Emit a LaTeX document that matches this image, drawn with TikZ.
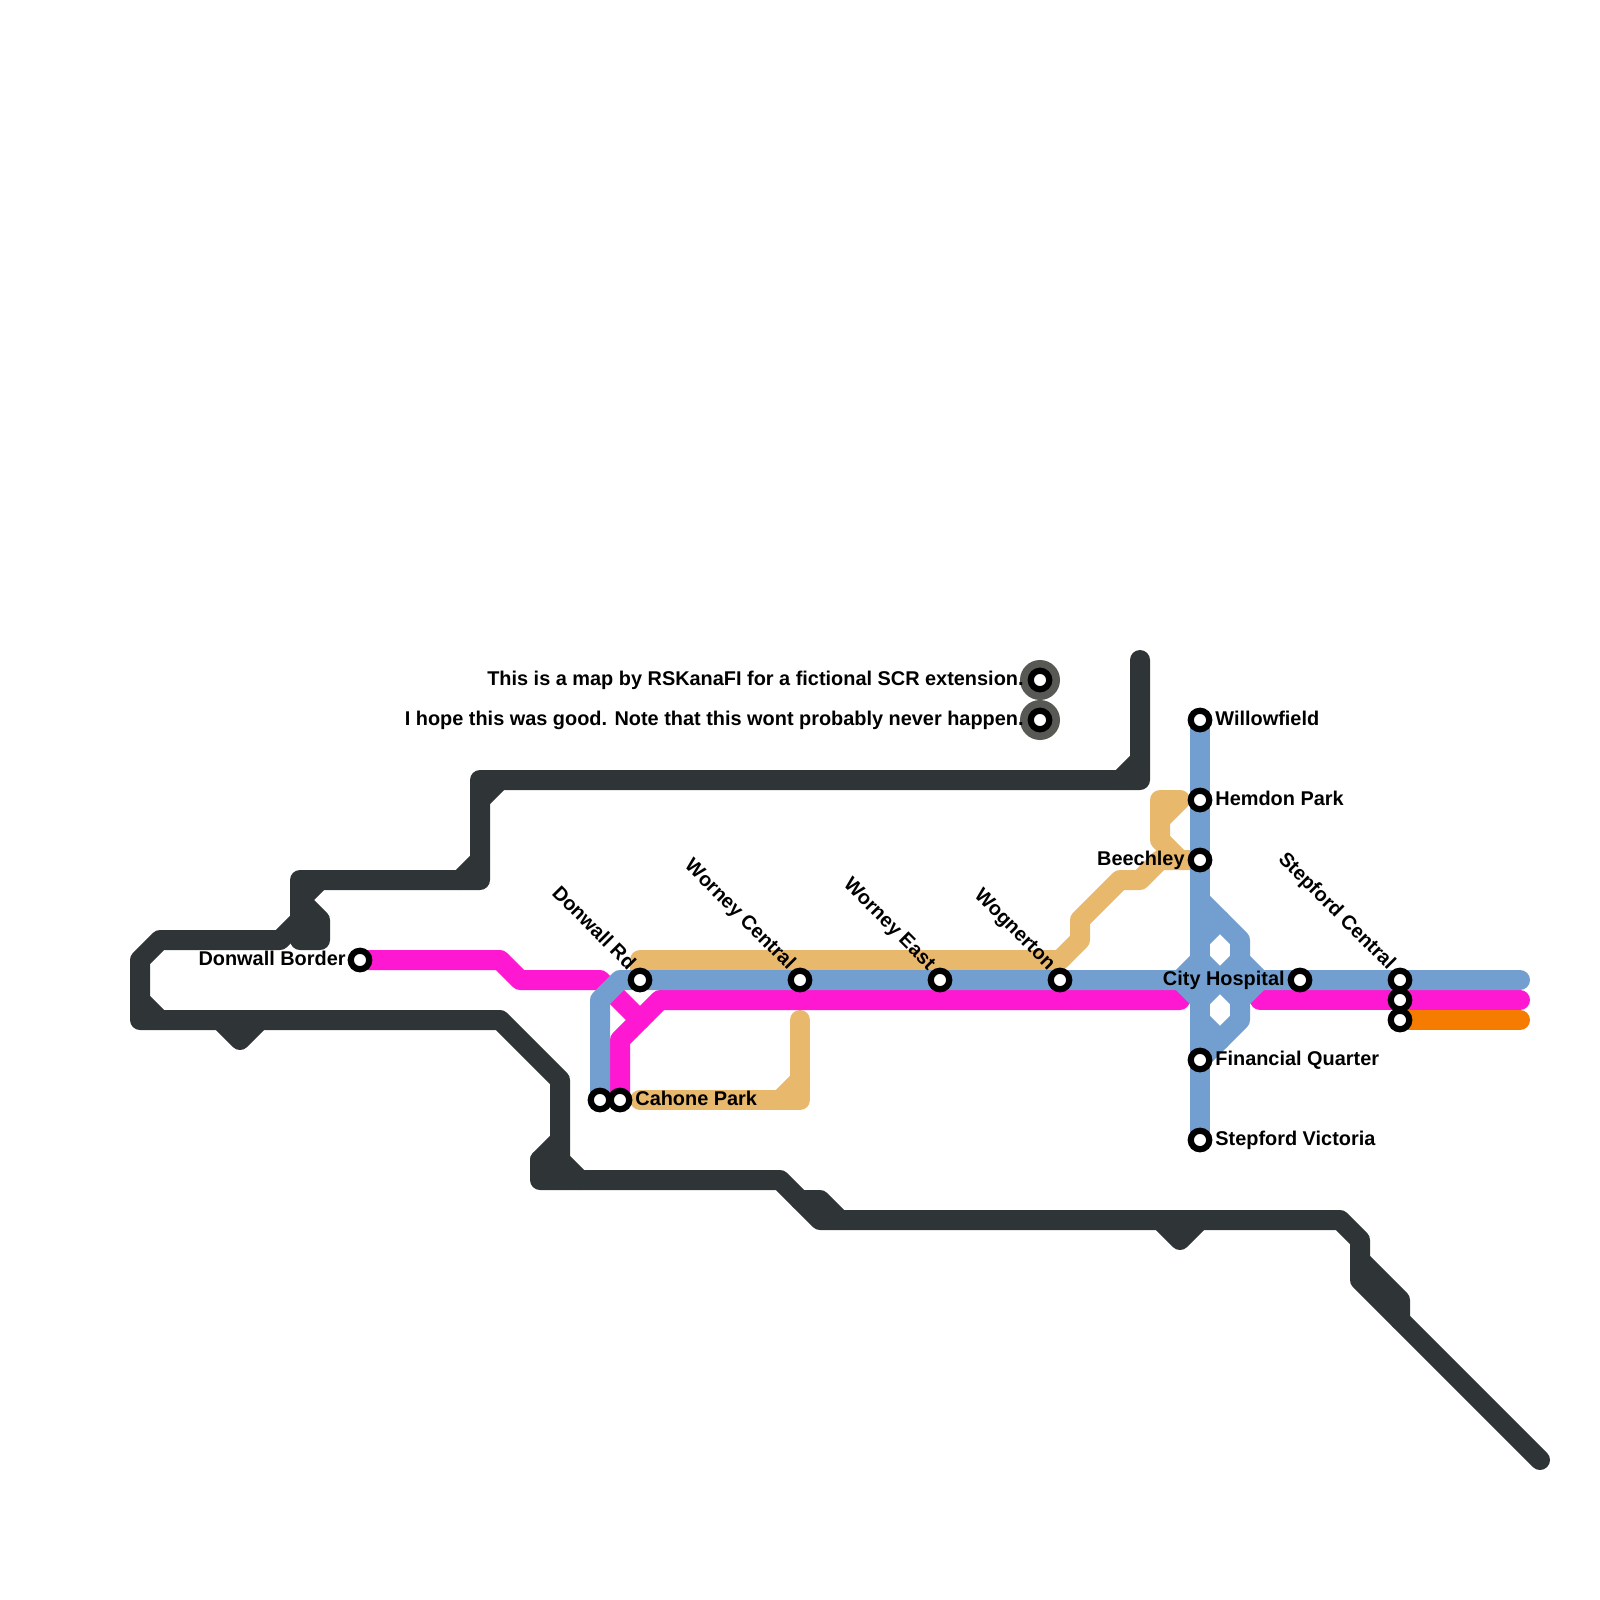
\documentclass[tikz,border=0pt]{standalone}
\usepackage{fontspec}
\setmainfont{Liberation Sans}
\usetikzlibrary{backgrounds}
\definecolor{darkline}{HTML}{2F3437}
\definecolor{tanline}{HTML}{E8B86D}
\definecolor{pinkline}{HTML}{FF18D2}
\definecolor{blueline}{HTML}{739FD0}
\definecolor{orangeline}{HTML}{F57C00}
\definecolor{halogray}{HTML}{585854}
\begin{document}
\begin{tikzpicture}[x=0.5pt, y=-0.5pt,
  route/.style={line width=10pt, line cap=round, line join=round},
  stn/.style={draw=black, fill=white, circle, line width=3.1pt, minimum size=9.25pt, inner sep=0pt},
  halo/.style={fill=halogray, circle, minimum size=20pt, inner sep=0pt},
  lbl/.style={font=\bfseries\fontsize{9.95}{11}\selectfont, inner sep=0pt, text=black}]
\useasboundingbox (0,0) rectangle (1600,1600);
% stations
\node[stn] (border) at (360,960) {};
\node[stn] (donwall) at (640,980) {};
\node[stn] (central) at (800,980) {};
\node[stn] (east) at (940,980) {};
\node[stn] (wognerton) at (1060,980) {};
\node[stn] (cahoneb) at (600,1100) {};
\node[stn] (cahonep) at (620,1100) {};
\node[stn] (willow) at (1200,720) {};
\node[stn] (hemdon) at (1200,800) {};
\node[stn] (beechley) at (1200,860) {};
\node[stn] (financial) at (1200,1060) {};
\node[stn] (victoria) at (1200,1140) {};
\node[stn] (hospital) at (1300,980) {};
\node[stn] (stepb) at (1400,980) {};
\node[stn] (stepp) at (1400,1000) {};
\node[stn] (stepo) at (1400,1020) {};
\node[stn] (noteone) at (1040,680) {};
\node[stn] (notetwo) at (1040,720) {};
% labels
\node[lbl, anchor=base east] at (1024,685) {This is a map by RSKanaFI for a fictional SCR extension.};
\node[lbl, anchor=base east] at (1024,725) {I hope this was good. Note that this wont probably never happen.};
\node[lbl, anchor=base east] at (346,965) {Donwall Border};
\node[lbl, anchor=base west] at (635,1105) {Cahone Park};
\node[lbl, anchor=base west] at (1215,725) {Willowfield};
\node[lbl, anchor=base west] at (1215,805) {Hemdon Park};
\node[lbl, anchor=base east] at (1185,865) {Beechley};
\node[lbl, anchor=base west] at (1215,1065) {Financial Quarter};
\node[lbl, anchor=base west] at (1215,1145) {Stepford Victoria};
\node[lbl, anchor=base east] at (1285,985) {City Hospital};
\node[lbl, anchor=base east, rotate=-45] at (628,971) {Donwall Rd};
\node[lbl, anchor=base east, rotate=-45] at (788,971) {Worney Central};
\node[lbl, anchor=base east, rotate=-45] at (928,971) {Worney East};
\node[lbl, anchor=base east, rotate=-45] at (1048,971) {Wognerton};
\node[lbl, anchor=base east, rotate=-45] at (1388,971) {Stepford Central};
\begin{pgfonlayer}{background}
\node[halo] at (noteone) {};
\node[halo] at (notetwo) {};
% dark line
\draw[route, darkline] (1140,660) -- (1140,780) -- (480,780) -- (480,880) -- (300,880) -- (300,920) -- (280,940)
  -- (160,940) -- (140,960) -- (140,1020) -- (500,1020) -- (560,1080) -- (560,1140) -- (540,1160) -- (540,1180)
  -- (780,1180) -- (820,1220) -- (1340,1220) -- (1360,1240) -- (1360,1280) -- (1540,1460);
\draw[route, darkline] (1120,780) -- (1140,760);
\draw[route, darkline] (480,800) -- (500,780);
\draw[route, darkline] (460,880) -- (480,860);
\draw[route, darkline] (320,880) -- (300,900) -- (320,920) -- (320,940) -- (300,940) -- (300,920) -- (320,920);
\draw[route, darkline] (140,1000) -- (160,1020);
\draw[route, darkline] (220,1020) -- (240,1040) -- (260,1020);
\draw[route, darkline] (560,1140) -- (560,1160) -- (580,1180);
\draw[route, darkline] (540,1160) -- (560,1160) -- (560,1180);
\draw[route, darkline] (800,1200) -- (820,1200) -- (840,1220);
\draw[route, darkline] (1160,1220) -- (1180,1240) -- (1200,1220);
\draw[route, darkline] (1360,1260) -- (1400,1300) -- (1400,1320);
% tan line
\draw[route, tanline] (640,980) -- (640,960) -- (1060,960) -- (1080,940) -- (1080,920) -- (1120,880) -- (1140,880)
  -- (1160,860) -- (beechley.center);
\draw[route, tanline] (1180,860) -- (1160,840) -- (1160,800) -- (1180,800) -- (1160,820);
\draw[route, tanline] (640,1100) -- (800,1100) -- (800,1020);
\draw[route, tanline] (780,1100) -- (800,1080);
% pink line
\draw[route, pinkline] (border.center) -- (500,960) -- (520,980) -- (600,980) -- (640,1020);
\draw[route, pinkline] (cahonep.center) -- (620,1040) -- (660,1000) -- (1180,1000);
\draw[route, pinkline] (1260,1000) -- (stepp.center) -- (1520,1000);
% orange line
\draw[route, orangeline] (stepo.center) -- (1520,1020);
% blue line
\draw[route, blueline] (cahoneb.center) -- (600,1000) -- (620,980) -- (1520,980);
\draw[route, blueline] (willow.center) -- (victoria.center);
\draw[route, blueline] (1200,900) -- (1240,940) -- (1240,1020) -- (financial.center);
\draw[route, blueline] (1220,920) -- (1200,940);
\draw[route, blueline] (1200,1020) -- (1220,1040);
\draw[route, blueline] (1200,960) -- (1180,980) -- (1200,1000) -- (1240,960) -- (1260,980) -- (1240,1000) -- (1200,960);
\end{pgfonlayer}
\end{tikzpicture}
\end{document}
